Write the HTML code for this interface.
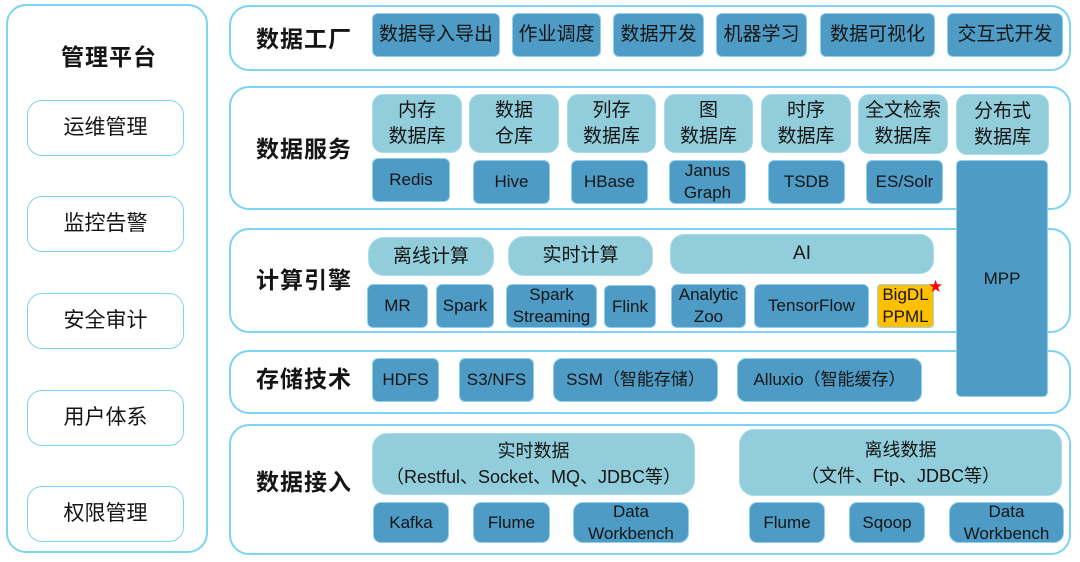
<!DOCTYPE html>
<html><head><meta charset="utf-8"><style>
html,body{margin:0;padding:0;background:#fff;}
body{width:1080px;height:562px;position:relative;overflow:hidden;font-family:"Liberation Sans","Noto Sans CJK SC",sans-serif;color:#151515;}
.c{position:absolute;border:2px solid #7dd3f4;border-radius:20px;box-sizing:border-box;background:#fff;}
.b{position:absolute;box-sizing:border-box;display:flex;align-items:center;justify-content:center;text-align:center;line-height:22px;}
.w{border:1.5px solid #7dd3f4;border-radius:15px;background:#fff;font-size:21px;}
.d{background:#4e9bc5;border:1px solid #8fd0ec;border-radius:6px;font-size:17px;}
.dc{font-size:19px;}
.l{background:#92cddc;border:1px solid #a8dcea;border-radius:11px;font-size:19px;line-height:26px;}
.t{position:absolute;font-weight:bold;font-size:23px;letter-spacing:1px;white-space:nowrap;}
</style></head><body>
<!-- left column -->
<div class="c" style="left:6px;top:4px;width:202px;height:549px;"></div>
<div class="t" style="left:61px;top:38px;">管理平台</div>
<div class="b w" style="left:27px;top:100px;width:157px;height:56px;">运维管理</div>
<div class="b w" style="left:27px;top:196px;width:157px;height:56px;">监控告警</div>
<div class="b w" style="left:27px;top:293px;width:157px;height:56px;">安全审计</div>
<div class="b w" style="left:27px;top:390px;width:157px;height:56px;">用户体系</div>
<div class="b w" style="left:27px;top:486px;width:157px;height:56px;">权限管理</div>

<!-- row containers -->
<div class="c" style="left:229px;top:5px;width:842px;height:66px;"></div>
<div class="c" style="left:229px;top:86px;width:842px;height:124px;"></div>
<div class="c" style="left:229px;top:228px;width:842px;height:105px;"></div>
<div class="c" style="left:229px;top:350px;width:842px;height:64px;"></div>
<div class="c" style="left:229px;top:424px;width:842px;height:131px;"></div>

<div class="t" style="left:256px;top:20px;">数据工厂</div>
<div class="t" style="left:256px;top:130px;">数据服务</div>
<div class="t" style="left:256px;top:261px;">计算引擎</div>
<div class="t" style="left:256px;top:360px;">存储技术</div>
<div class="t" style="left:256px;top:463px;">数据接入</div>

<!-- row 1 -->
<div class="b d dc" style="left:372px;top:13px;width:128px;height:44px;">数据导入导出</div>
<div class="b d dc" style="left:512px;top:13px;width:89px;height:44px;">作业调度</div>
<div class="b d dc" style="left:613px;top:13px;width:91px;height:44px;">数据开发</div>
<div class="b d dc" style="left:716px;top:13px;width:91px;height:44px;">机器学习</div>
<div class="b d dc" style="left:820px;top:13px;width:115px;height:44px;">数据可视化</div>
<div class="b d dc" style="left:947px;top:13px;width:116px;height:44px;">交互式开发</div>

<!-- row 2 -->
<div class="b l" style="left:372px;top:94px;width:90px;height:59px;">内存<br>数据库</div>
<div class="b l" style="left:469px;top:94px;width:90px;height:59px;">数据<br>仓库</div>
<div class="b l" style="left:567px;top:94px;width:89px;height:59px;">列存<br>数据库</div>
<div class="b l" style="left:664px;top:94px;width:89px;height:59px;">图<br>数据库</div>
<div class="b l" style="left:761px;top:94px;width:90px;height:59px;">时序<br>数据库</div>
<div class="b l" style="left:858px;top:94px;width:90px;height:60px;">全文检索<br>数据库</div>
<div class="b l" style="left:956px;top:94px;width:93px;height:61px;">分布式<br>数据库</div>

<div class="b d" style="left:372px;top:158px;width:78px;height:44px;">Redis</div>
<div class="b d" style="left:473px;top:160px;width:77px;height:44px;">Hive</div>
<div class="b d" style="left:571px;top:160px;width:77px;height:44px;">HBase</div>
<div class="b d" style="left:669px;top:160px;width:77px;height:44px;">Janus<br>Graph</div>
<div class="b d" style="left:768px;top:160px;width:77px;height:44px;">TSDB</div>
<div class="b d" style="left:866px;top:160px;width:77px;height:44px;">ES/Solr</div>

<!-- row 3 -->
<div class="b l" style="left:368px;top:237px;width:126px;height:39px;border-radius:16px;">离线计算</div>
<div class="b l" style="left:508px;top:236px;width:145px;height:40px;border-radius:16px;">实时计算</div>
<div class="b l" style="left:670px;top:234px;width:264px;height:40px;border-radius:14px;">AI</div>

<div class="b d" style="left:367px;top:284px;width:61px;height:44px;">MR</div>
<div class="b d" style="left:436px;top:284px;width:58px;height:44px;">Spark</div>
<div class="b d" style="left:506px;top:284px;width:91px;height:44px;">Spark<br>Streaming</div>
<div class="b d" style="left:604px;top:285px;width:52px;height:43px;">Flink</div>
<div class="b d" style="left:671px;top:284px;width:75px;height:44px;">Analytic<br>Zoo</div>
<div class="b d" style="left:754px;top:284px;width:115px;height:44px;">TensorFlow</div>
<div class="b d" style="left:877px;top:284px;width:57px;height:44px;background:#ffc000;border-color:#9fd4ea;border-radius:4px;">BigDL<br>PPML</div>
<div style="position:absolute;left:928px;top:279px;color:#ff0000;font-size:17px;line-height:17px;font-family:'DejaVu Sans',sans-serif;">★</div>

<!-- row 4 -->
<div class="b d" style="left:372px;top:358px;width:67px;height:44px;">HDFS</div>
<div class="b d" style="left:459px;top:358px;width:75px;height:44px;">S3/NFS</div>
<div class="b d" style="left:553px;top:358px;width:165px;height:44px;border-radius:9px;">SSM（智能存储）</div>
<div class="b d" style="left:737px;top:358px;width:185px;height:44px;border-radius:9px;">Alluxio（智能缓存）</div>

<!-- MPP -->
<div class="b d" style="left:956px;top:160px;width:92px;height:237px;border-radius:5px;z-index:5;">MPP</div>

<!-- row 5 -->
<div class="b l" style="left:372px;top:433px;width:323px;height:62px;border-radius:15px;font-size:18px;line-height:26px;">实时数据<br>（Restful、Socket、MQ、JDBC等）</div>
<div class="b l" style="left:739px;top:429px;width:323px;height:67px;border-radius:15px;font-size:18px;line-height:26px;">离线数据<br>（文件、Ftp、JDBC等）</div>

<div class="b d" style="left:373px;top:502px;width:76px;height:41px;border-radius:8px;">Kafka</div>
<div class="b d" style="left:473px;top:502px;width:77px;height:41px;border-radius:8px;">Flume</div>
<div class="b d" style="left:573px;top:502px;width:116px;height:41px;border-radius:10px;">Data<br>Workbench</div>
<div class="b d" style="left:749px;top:502px;width:76px;height:41px;border-radius:8px;">Flume</div>
<div class="b d" style="left:849px;top:502px;width:76px;height:41px;border-radius:8px;">Sqoop</div>
<div class="b d" style="left:949px;top:502px;width:115px;height:41px;border-radius:10px;">Data<br>Workbench</div>
</body></html>
